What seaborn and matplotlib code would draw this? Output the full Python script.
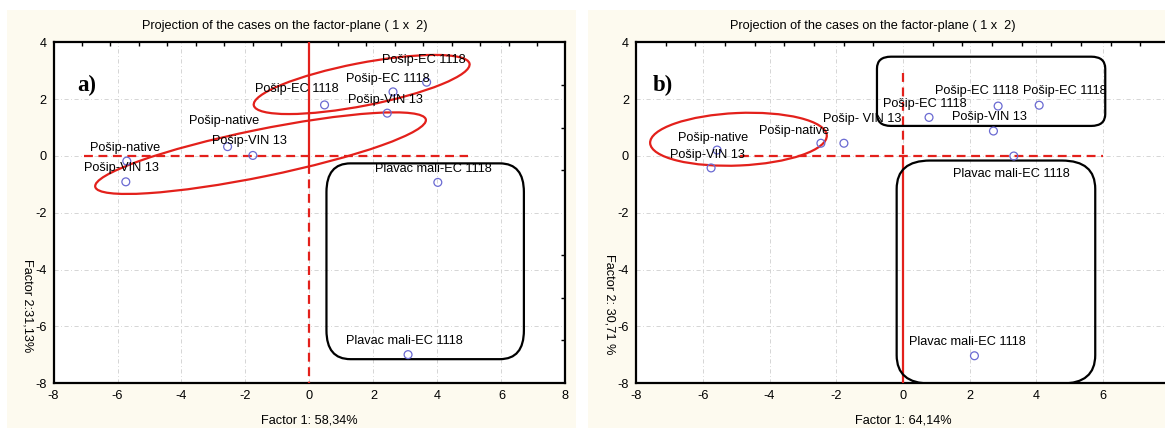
import numpy as np
import pandas as pd
import matplotlib
matplotlib.use("Agg")
import matplotlib.pyplot as plt
from matplotlib.patches import Ellipse, FancyBboxPatch, Rectangle
from matplotlib.ticker import FixedLocator
import seaborn as sns

# ---------------- data ----------------
title_text = "Projection of the cases on the factor-plane ( 1 x  2)"

a_labels = ["Pošip-native", "Pošip-VIN 13", "Pošip-native", "Pošip-VIN 13",
            "Pošip-EC 1118", "Pošip-EC 1118", "Pošip-EC 1118", "Pošip-VIN 13",
            "Plavac mali-EC 1118", "Plavac mali-EC 1118"]
a_x = [-5.71, -5.74, -2.56, -1.77, 0.47, 2.61, 3.66, 2.43, 4.01, 3.08]
a_y = [-0.18, -0.91, 0.33, 0.02, 1.80, 2.26, 2.60, 1.51, -0.93, -7.00]
a_xlabel = "Factor 1: 58,34%"
a_ylabel = "Factor 2:31,13%"

b_labels = ["Pošip-native", "Pošip-VIN 13", "Pošip-native", "Pošip- VIN 13",
            "Pošip-EC 1118", "Pošip-EC 1118", "Pošip-EC 1118", "Pošip-VIN 13",
            "Plavac mali-EC 1118", "Plavac mali-EC 1118"]
b_x = [-5.57, -5.75, -2.46, -1.77, 0.78, 2.85, 4.08, 2.71, 3.32, 2.14]
b_y = [0.21, -0.42, 0.45, 0.45, 1.36, 1.76, 1.79, 0.88, 0.00, -7.04]
b_xlabel = "Factor 1: 64,14%"
b_ylabel = "Factor 2: 30,71 %"

a_x_ticks = [-8, -6, -4, -2, 0, 2, 4, 6, 8]
b_x_ticks = [-8, -6, -4, -2, 0, 2, 4, 6]
y_ticks = [-8, -6, -4, -2, 0, 2, 4]

# ---------------- styles / annotation geometry ----------------
a_offsets = [(-2, 13), (-4, 14), (-3, 26), (-3, 14), (-28, 16), (-5, 13),
             (-3, 22), (-2, 13), (-4, 13), (-4, 14)]
b_offsets = [(-4, 12), (-4, 13), (-27, 12), (18, 24), (-4, 13), (-21, 15),
             (26, 14), (-4, 14), (-2, -18), (-7, 14)]

RED = "#e3201b"
MARK = "#6a6ad2"
CREAM = "#fdfaef"
FS = 9.2

sns.set_theme(style="white")
plt.rcParams["font.family"] = ["Liberation Sans", "DejaVu Sans"]
plt.rcParams["axes.unicode_minus"] = False

W, H = 1165, 428
fig = plt.figure(figsize=(W / 100, H / 100), dpi=100)
fig.patch.set_facecolor("white")

# cream panel backgrounds (figure pixels)
for (x0, x1) in [(7, 576), (588, 1165)]:
    fig.patches.append(Rectangle((x0 / W, 0), (x1 - x0) / W, (H - 10) / H,
                                 transform=fig.transFigure, facecolor=CREAM,
                                 edgecolor="none", zorder=-10))

ax_a = fig.add_axes([53.5 / W, 45 / H, 512 / W, 340.5 / H])
ax_b = fig.add_axes([636 / W, 45 / H, 534 / W, 340.5 / H])


def setup(ax, xt, xl, yl, ylab_x, ylab_y, title_x, letter, letter_x):
    ax.set_facecolor("white")
    ax.set_xlim(-8, 8)
    ax.set_ylim(-8, 4)
    ax.set_xticks(xt)
    ax.set_yticks(y_ticks)
    ax.xaxis.set_minor_locator(FixedLocator(np.linspace(-8, 8, 19)[1:-1]))
    ax.yaxis.set_minor_locator(FixedLocator(np.linspace(4, -8, 9)[1:-1]))
    ax.tick_params(which="major", length=0, labelsize=FS, colors="black",
                   pad=5)
    ax.tick_params(axis="x", which="minor", bottom=False, top=True,
                   direction="in", length=3, width=1, color="black")
    ax.tick_params(axis="y", which="minor", left=False, right=True,
                   direction="in", length=3, width=1, color="black")
    ax.grid(True, which="major", color="#cfcfcf", linestyle=(0, (5, 3, 1, 3)),
            linewidth=0.6)
    for s in ax.spines.values():
        s.set_visible(True)
        s.set_color("black")
        s.set_linewidth(1.6)
    ax.set_xlabel(xl, fontsize=FS, color="black")
    ax.xaxis.set_label_coords(0.5, -0.093)
    ax.xaxis.label.set_va("top")
    ax.set_ylabel(yl, fontsize=FS, color="black", rotation=-90,
                  va="center", ha="center")
    ax.yaxis.set_label_coords(ylab_x, ylab_y)
    ax.text(title_x, 1.048, title_text, transform=ax.transAxes,
            ha="center", va="center", fontsize=FS, color="black")
    ax.text(letter_x, 2.5, letter, fontsize=16.5, fontweight="bold",
            family=["Liberation Serif", "DejaVu Serif"], ha="center",
            va="center", color="black", zorder=6)


def points(ax, xs, ys, labels, offsets):
    df = pd.DataFrame({"x": xs, "y": ys, "label": labels})
    sns.scatterplot(data=df, x="x", y="y", ax=ax, marker="o", s=32,
                    facecolor="none", edgecolor=MARK, linewidth=0.9,
                    zorder=5, legend=False)
    for (xv, yv, lab), (dx, dy) in zip(zip(xs, ys, labels), offsets):
        ax.annotate(lab, (xv, yv), xytext=(dx, dy), textcoords="offset pixels",
                    ha="center", va="center", fontsize=FS, color="black",
                    zorder=6)


# ---- panel a ----
points(ax_a, a_x, a_y, a_labels, a_offsets)
setup(ax_a, a_x_ticks, a_xlabel, a_ylabel, -0.05, 0.226, 0.452, "a)", -6.96)
ax_a.plot([-7.04, 4.96], [0, 0], color=RED, lw=1.6, ls=(0, (4, 2.5)), zorder=3)
ax_a.plot([0, 0], [4, -0.3], color=RED, lw=1.6, zorder=3)
ax_a.plot([0, 0], [-0.3, -8], color=RED, lw=1.6, ls=(0, (4, 2.5)), zorder=3)
ax_a.add_patch(Ellipse((1.63, 2.52), 6.9, 1.5, angle=12.4, fill=False,
                       edgecolor=RED, lw=1.6, zorder=4))
ax_a.add_patch(Ellipse((-1.53, 0.10), 10.6, 1.65, angle=13.0, fill=False,
                       edgecolor=RED, lw=1.6, zorder=4))
ax_a.add_patch(FancyBboxPatch((0.53, -7.16), 6.17, 6.9,
                              boxstyle="round,pad=0,rounding_size=0.75",
                              mutation_aspect=1.35, fill=False,
                              edgecolor="black", lw=1.6, zorder=4))

# ---- panel b ----
points(ax_b, b_x, b_y, b_labels, b_offsets)
setup(ax_b, b_x_ticks, b_xlabel, b_ylabel, -0.049, 0.232, 0.444, "b)", -7.2)
ax_b.plot([-4.88, 5.98], [0, 0], color=RED, lw=1.6, ls=(0, (4, 2.5)), zorder=3)
ax_b.plot([0, 0], [2.92, 0], color=RED, lw=1.6, ls=(0, (4, 2.5)), zorder=3)
ax_b.plot([0, 0], [0, -8], color=RED, lw=1.6, zorder=3)
ax_b.add_patch(Ellipse((-4.93, 0.59), 5.3, 1.85, angle=3.0, fill=False,
                       edgecolor=RED, lw=1.6, zorder=4))
ax_b.add_patch(FancyBboxPatch((-0.78, 1.06), 6.84, 2.44,
                              boxstyle="round,pad=0,rounding_size=0.42",
                              fill=False, edgecolor="black", lw=1.6, zorder=4))
ax_b.add_patch(FancyBboxPatch((-0.19, -8.02), 5.95, 7.86,
                              boxstyle="round,pad=0,rounding_size=1.0",
                              fill=False, edgecolor="black", lw=1.6, zorder=4))

fig.savefig("out.png", dpi=100, facecolor=fig.get_facecolor())
